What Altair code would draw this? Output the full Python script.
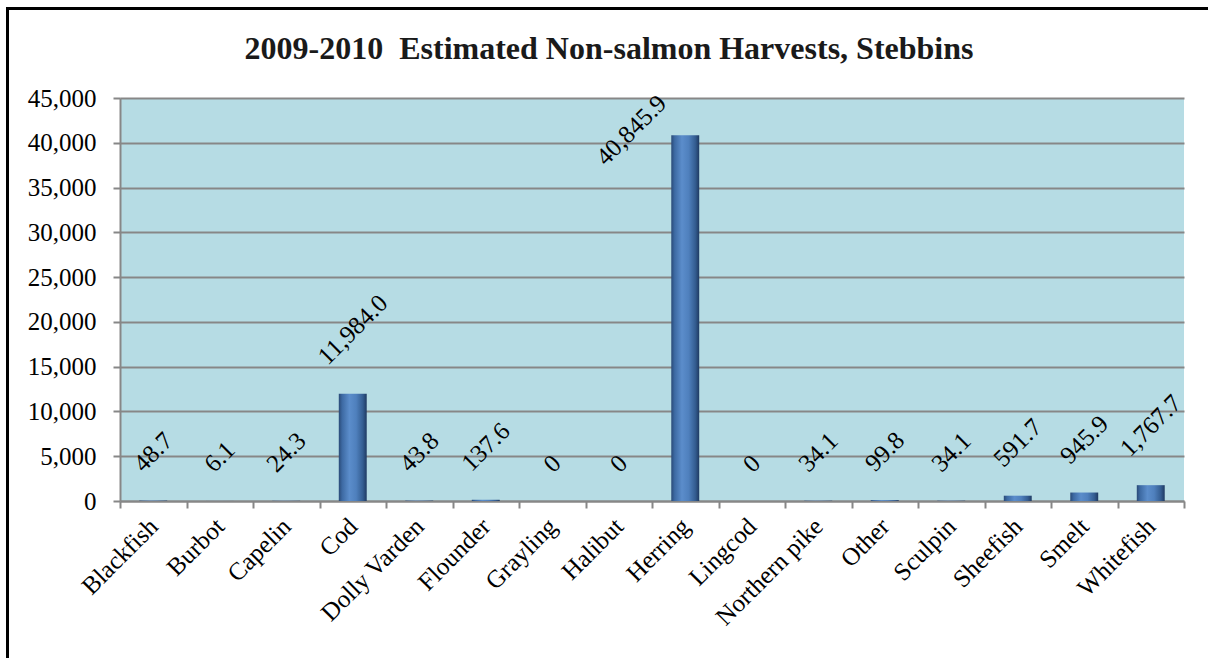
import altair as alt
import pandas as pd

species = ["Blackfish", "Burbot", "Capelin", "Cod", "Dolly Varden", "Flounder",
           "Grayling", "Halibut", "Herring", "Lingcod", "Northern pike", "Other",
           "Sculpin", "Sheefish", "Smelt", "Whitefish"]
harvest = [48.7, 6.1, 24.3, 11984.0, 43.8, 137.6, 0, 0, 40845.9, 0, 34.1, 99.8,
           34.1, 591.7, 945.9, 1767.7]
y_ticks = [0, 5000, 10000, 15000, 20000, 25000, 30000, 35000, 40000, 45000]
title_text = "2009-2010\u00a0 Estimated Non-salmon Harvests, Stebbins"

df = pd.DataFrame({"species": species, "harvest": harvest})

FONT = "Liberation Serif"
GRAY = "#878787"

x_enc = alt.X(
    "species:N", sort=species, title=None,
    scale=alt.Scale(paddingInner=0, paddingOuter=0),
    axis=alt.Axis(labelAngle=315, labelAlign="right", labelBaseline="middle",
                  labelFont=FONT, labelFontSize=25, labelColor="black",
                  tickBand="extent", tickSize=7, tickColor=GRAY, tickWidth=2,
                  domainColor=GRAY, domainWidth=2, labelPadding=14, grid=False,
                  labelOverlap=False),
)
y_enc = alt.Y(
    "harvest:Q", title=None,
    scale=alt.Scale(domain=[0, 45000], nice=False),
    axis=alt.Axis(values=y_ticks, format=",.0f", labelFont=FONT, labelFontSize=25,
                  labelColor="black", tickSize=7, tickColor=GRAY, tickWidth=2,
                  domainColor=GRAY, domainWidth=2, labelPadding=17,
                  gridColor=GRAY, gridWidth=2),
)

gradient = alt.LinearGradient(
    gradient="linear", x1=0, x2=1, y1=0, y2=0,
    stops=[
        alt.GradientStop(color="#2a4a77", offset=0),
        alt.GradientStop(color="#3d6aa3", offset=0.12),
        alt.GradientStop(color="#5b8dcb", offset=0.38),
        alt.GradientStop(color="#4f80bd", offset=0.62),
        alt.GradientStop(color="#345d91", offset=0.86),
        alt.GradientStop(color="#1f3a62", offset=1),
    ],
)

base = alt.Chart(df)

bars = base.mark_bar(width=alt.RelativeBandSize(0.42), color=gradient).encode(
    x=x_enc, y=y_enc
)

labels = base.transform_calculate(
    label="datum.harvest == 0 ? '0' : format(datum.harvest, ',.1f')",
).transform_calculate(
    npunct="length(datum.label) - length(replace(datum.label, regexp('[,.]', 'g'), ''))",
).transform_calculate(
    L="25 * (0.5 * (length(datum.label) - datum.npunct) + 0.25 * datum.npunct)",
).transform_calculate(
    d="27 + 0.354 * (datum.L + 17)",
).mark_text(
    angle=315, align="center", baseline="middle", font=FONT, fontSize=25,
    color="black",
    dx=alt.ExprRef(expr="datum.harvest > 36000 ? -34.6 : 0.707 * datum.d"),
    dy=alt.ExprRef(expr="datum.harvest > 36000 ? -41.7 : -0.707 * datum.d"),
).encode(
    x=x_enc,
    y=y_enc,
    text="label:N",
)

frame = alt.Data(values=[{}])
left_border = alt.Chart(frame).mark_rule(color="black", strokeWidth=3).encode(
    x=alt.value(-112.5), y=alt.value(-91), y2=alt.value(560)
)
top_border = alt.Chart(frame).mark_rule(color="black", strokeWidth=3).encode(
    x=alt.value(-114), x2=alt.value(1088), y=alt.value(-89.5)
)

chart = alt.layer(bars, labels, left_border, top_border).properties(
    width=1064, height=403,
    title=alt.Title(title_text, font=FONT, fontSize=32, fontWeight="bold",
                    color="#1a1a1a", anchor="middle", dx=-43, offset=-85,
                    baseline="alphabetic"),
    autosize=alt.AutoSizeParams(type="none"),
    padding={"left": 120, "top": 98, "right": 24, "bottom": 157},
    background="white",
).configure_view(fill="#B6DCE4", stroke=None)

chart.save("out.html", embed_options={"renderer": "svg", "actions": False})
